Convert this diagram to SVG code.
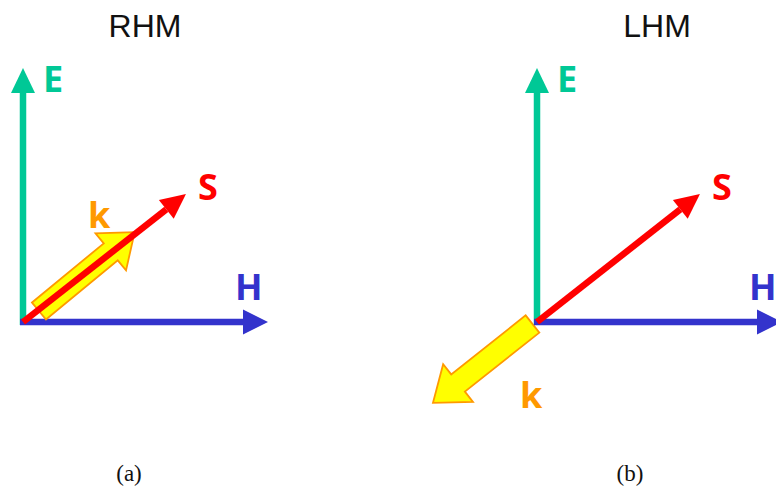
<svg xmlns="http://www.w3.org/2000/svg" width="776" height="493" viewBox="0 0 776 493">
<style>
.title{font-family:"Liberation Sans",Arial,sans-serif;font-size:32px;fill:#111;text-anchor:middle}
.cap{font-family:"Liberation Serif","Times New Roman",serif;font-size:23px;fill:#111;text-anchor:middle}
.lbl{font-family:"Open Sans","Noto Sans",sans-serif;font-weight:bold;font-size:36px}
.e{fill:#00C896}
.h{fill:#3333CC}
.s{fill:#FF0000}
.k{fill:#FF9900}
.le{stroke:#00C896;stroke-width:6.5;fill:none}
.lh{stroke:#3333CC;stroke-width:6.5;fill:none}
.ls{stroke:#FF0000;stroke-width:6.5;fill:none}
.kar{fill:#FFFF00;stroke:#FF9900;stroke-width:1.8;stroke-linejoin:miter}
</style>
<defs>
<marker id="mE" markerUnits="userSpaceOnUse" markerWidth="26" markerHeight="26" refX="0" refY="12" orient="auto" overflow="visible"><path d="M0,0 L25,12 L0,24 z" fill="#00C896"/></marker>
<marker id="mH" markerUnits="userSpaceOnUse" markerWidth="26" markerHeight="26" refX="0" refY="12.5" orient="auto" overflow="visible"><path d="M0,0 L25,12.5 L0,25 z" fill="#3333CC"/></marker>
<marker id="mS" markerUnits="userSpaceOnUse" markerWidth="26" markerHeight="26" refX="0" refY="12" orient="auto" overflow="visible"><path d="M0,0 L25,12 L0,24 z" fill="#FF0000"/></marker>
</defs>
<text class="title" x="145" y="37">RHM</text>
<text class="title" x="657" y="37">LHM</text>
<g id="connectors">
<line class="le" x1="23" y1="325" x2="23" y2="93" marker-end="url(#mE)"/>
<line class="lh" x1="20" y1="322" x2="243" y2="322" marker-end="url(#mH)"/>
<polygon id="k-a" class="kar" transform="translate(39,311) rotate(-39.5)" points="0,-11 93,-11 93,-24 124,0 93,24 93,11 0,11"/>
<line class="ls" x1="23" y1="322" x2="166.3" y2="209.4" marker-end="url(#mS)"/>
<polygon id="k-b" class="kar" transform="translate(532.5,324) rotate(141.6)" points="0,-11 95,-11 95,-24 127,0 95,24 95,11 0,11"/>
<line class="le" x1="537" y1="325" x2="537" y2="93" marker-end="url(#mE)"/>
<line class="lh" x1="534" y1="322" x2="757" y2="322" marker-end="url(#mH)"/>
<line class="ls" x1="537" y1="322" x2="680.3" y2="209.4" marker-end="url(#mS)"/>
</g>
<g id="label-E-a"><text class="lbl e" x="43" y="92">E</text></g>
<g id="label-H-a"><text class="lbl h" x="235" y="300">H</text></g>
<g id="label-S-a"><text class="lbl s" x="198" y="200">S</text></g>
<g id="label-k-a"><text class="lbl k" x="88" y="228">k</text></g>
<g id="label-E-b"><text class="lbl e" x="557" y="92">E</text></g>
<g id="label-H-b"><text class="lbl h" x="749" y="300">H</text></g>
<g id="label-S-b"><text class="lbl s" x="712" y="200">S</text></g>
<g id="label-k-b"><text class="lbl k" x="520" y="408">k</text></g>
<text class="cap" x="129" y="481">(a)</text>
<text class="cap" x="630" y="481">(b)</text>
</svg>
